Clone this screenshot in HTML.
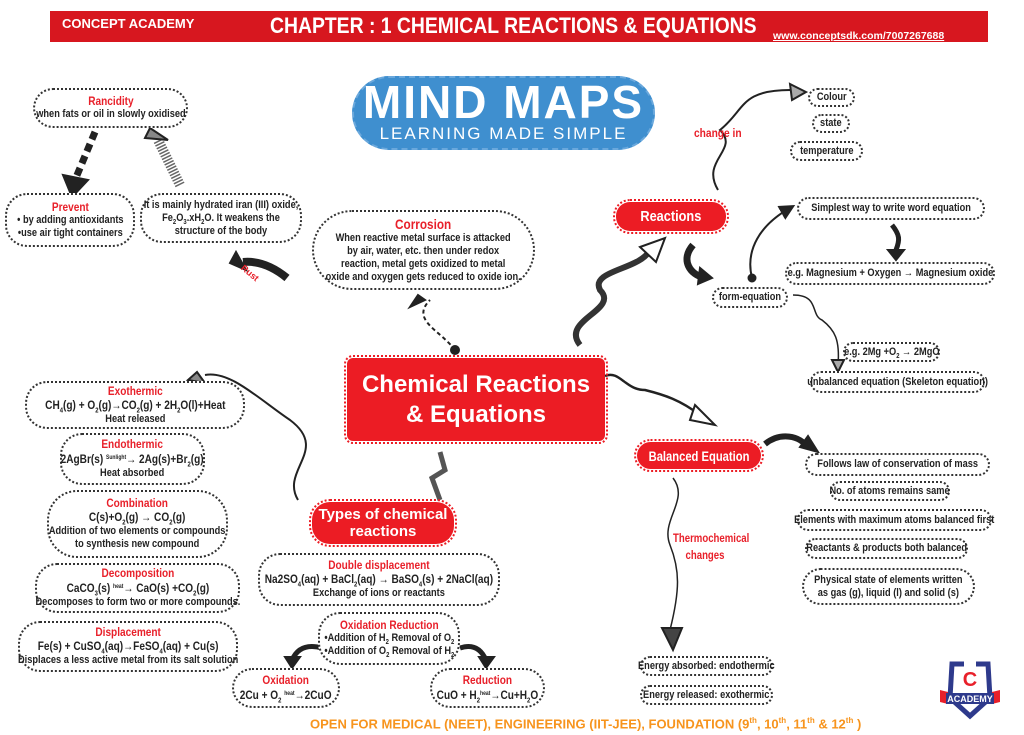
<!DOCTYPE html>
<html><head><meta charset="utf-8">
<style>
*{margin:0;padding:0;box-sizing:border-box}
body{width:1024px;height:735px;background:#fff;position:relative;overflow:hidden;font-family:"Liberation Sans",sans-serif;color:#222}
.a{position:absolute}
.b{position:absolute;border:2px dotted #333;border-radius:22px;background:#fff;text-align:center;font-weight:bold;font-size:11px;line-height:13px;display:flex;justify-content:center;align-items:center;white-space:nowrap}
.b>div{transform:scaleX(.84);transform-origin:center}
.r{color:#e8202a;font-size:12px;display:block}
.e{font-size:12px;display:block;line-height:15px}
.red{position:absolute;background:#ec1c24;color:#fff;border:2px dotted #ec1c24;outline:2px dotted #ec1c24;outline-offset:1px;display:flex;align-items:center;justify-content:center;text-align:center;font-weight:bold;white-space:nowrap}
sub{font-size:7px;line-height:0}
.t{font-size:6px;vertical-align:4px}
</style></head><body>
<div class="a" style="left:50px;top:11px;width:938px;height:31px;background:#d7171f"></div>
<div class="a" style="left:62px;top:16px;color:#fff;font:bold 13px 'Liberation Sans',sans-serif">CONCEPT ACADEMY</div>
<div class="a" style="left:270px;top:13px;color:#fff;font:bold 22px 'Liberation Sans',sans-serif;white-space:nowrap;transform:scaleX(.88);transform-origin:left">CHAPTER : 1 CHEMICAL REACTIONS &amp; EQUATIONS</div>
<div class="a" style="left:773px;top:30px;color:#fff;font:bold 10.5px 'Liberation Sans',sans-serif;text-decoration:underline">www.conceptsdk.com/7007267688</div>

<div class="a" style="left:352px;top:76px;width:303px;height:74px;background:#3f8fcf;border-radius:37px;border:2px dashed #6aa8dc"></div>
<div class="a" style="left:352px;top:77px;width:303px;text-align:center;color:#fff;font:bold 46px 'Liberation Sans',sans-serif;letter-spacing:2px;line-height:50px">MIND MAPS</div>
<div class="a" style="left:352px;top:124px;width:303px;text-align:center;color:#fff;font:17px 'Liberation Sans',sans-serif;letter-spacing:2px">LEARNING MADE SIMPLE</div>

<svg class="a" style="left:0;top:0" width="1024" height="735">
<defs><marker id="m" markerWidth="8" markerHeight="8" refX="5" refY="4" orient="auto"><path d="M0,0 L8,4 L0,8z" fill="#222"/></marker></defs>
<g fill="none" stroke="#222" stroke-width="2">
<path d="M95,132 L75,180" stroke-width="7" stroke-dasharray="8,5"/>
<path d="M63,175 L72,197 L88,180z" fill="#222"/>
<path d="M180,185 L158,140" stroke-width="10" stroke="#666" stroke-dasharray="1.5,1.5"/>
<path d="M145,138 L150,128 L168,140z" fill="#888"/>
<path d="M287,278 Q265,260 243,262" stroke-width="8"/>
<path d="M236,252 L230,263 L246,270z" fill="#222"/>
<path d="M455,350 C440,330 410,320 430,300" stroke-dasharray="4,3"/>
<circle cx="455" cy="350" r="4" fill="#222"/>
<path d="M425,300 L410,307 L418,295z" fill="#222"/>
<path d="M580,345 C560,320 620,310 600,290 C590,270 640,270 650,250" stroke-width="6" stroke="#333"/>
<path d="M640,247 L665,238 L656,262z" fill="#fff"/>
<path d="M718,190 C700,160 740,150 720,130 C745,110 740,90 790,90" />
<path d="M790,84 L806,92 L792,100z" fill="#aaa"/>
<path d="M693,245 C680,260 690,275 705,278" stroke-width="7"/>
<path d="M698,284 L712,278 L700,268z" fill="#222"/>
<path d="M752,278 C745,250 760,225 790,208" marker-end="url(#m)"/>
<circle cx="752" cy="278" r="3.5" fill="#222"/>
<path d="M892,225 C900,235 900,240 896,250" stroke-width="5"/>
<path d="M888,250 L896,260 L904,250z" fill="#222"/>
<path d="M793,295 C820,295 810,315 822,320 C835,330 840,340 838,365" stroke-width="1.5"/>
<path d="M832,360 L838,372 L844,360z" fill="#aaa"/>
<path d="M605,376 C620,370 625,390 645,390 C665,395 680,400 700,415" stroke-width="2.5"/>
<path d="M695,405 L715,425 L690,420z" fill="#fff"/>
<path d="M765,444 C780,432 800,435 808,448" stroke-width="6"/>
<path d="M800,447 L818,452 L808,436z" fill="#222"/>
<path d="M673,478 C690,500 660,520 670,545 C680,570 680,590 670,630" stroke-width="1.5"/>
<path d="M662,628 L673,650 L682,628z" fill="#444"/>
<path d="M440,452 L445,470 L432,478 L440,500" stroke-width="5" stroke="#555"/>
<path d="M298,500 C280,470 330,450 290,420 C260,400 230,370 205,375" stroke-width="2"/>
<path d="M197,372 L188,380 L205,383z" fill="#888"/>
<path d="M322,648 Q300,642 292,660" stroke-width="5"/>
<path d="M285,657 L292,668 L300,657z" fill="#222"/>
<path d="M460,648 Q478,642 486,660" stroke-width="5"/>
<path d="M479,657 L486,668 L494,657z" fill="#222"/>
</g></svg>

<div class="b" style="left:33px;top:88px;width:155px;height:40px"><div><span class="r">Rancidity</span>when fats or oil in slowly oxidised</div></div>
<div class="b" style="left:5px;top:193px;width:130px;height:54px"><div><span class="r">Prevent</span>• by adding antioxidants<br>•use air tight containers</div></div>
<div class="b" style="left:140px;top:193px;width:162px;height:50px"><div>It is mainly hydrated iran (III) oxide,<br>Fe<sub>2</sub>O<sub>3</sub>.xH<sub>2</sub>O. It weakens the<br>structure of the body</div></div>
<div class="a" style="left:240px;top:268px;color:#e8202a;font-weight:bold;font-size:9px;transform:rotate(40deg)">Rust</div>
<div class="b" style="left:312px;top:210px;width:223px;height:80px;border-radius:40px;font-size:11px"><div><span class="r" style="font-size:14px;line-height:15px">Corrosion</span>When reactive metal surface is attacked<br>by air, water, etc. then under redox<br>reaction, metal gets oxidized to metal<br>oxide and oxygen gets reduced to oxide ion.</div></div>

<div class="red" style="left:347px;top:358px;width:258px;height:83px;font:bold 24px 'Liberation Sans',sans-serif;line-height:30px;border-radius:6px">Chemical Reactions<br>&amp; Equations</div>
<div class="red" style="left:616px;top:202px;width:110px;height:29px;font-size:15px;border-radius:14px"><span style="transform:scaleX(.85)">Reactions</span></div>
<div class="red" style="left:637px;top:442px;width:124px;height:27px;font-size:14px;border-radius:14px"><span style="transform:scaleX(.8)">Balanced Equation</span></div>
<div class="red" style="left:312px;top:502px;width:142px;height:42px;font:bold 15px 'Liberation Sans',sans-serif;line-height:17px;border-radius:18px">Types of chemical<br>reactions</div>

<div class="a" style="left:694px;top:126px;color:#e8202a;font-weight:bold;font-size:12px;transform:scaleX(.85);transform-origin:left">change in</div>
<div class="b" style="left:808px;top:88px;width:47px;height:19px"><div>Colour</div></div>
<div class="b" style="left:812px;top:114px;width:38px;height:19px"><div>state</div></div>
<div class="b" style="left:790px;top:141px;width:73px;height:20px"><div>temperature</div></div>
<div class="b" style="left:797px;top:197px;width:188px;height:23px"><div>Simplest way to write word equation</div></div>
<div class="b" style="left:785px;top:262px;width:210px;height:23px"><div>e.g. Magnesium + Oxygen → Magnesium oxide</div></div>
<div class="b" style="left:712px;top:287px;width:76px;height:21px"><div>form-equation</div></div>
<div class="b" style="left:843px;top:342px;width:97px;height:20px"><div>e.g. 2Mg +O<sub>2</sub> → 2MgO</div></div>
<div class="b" style="left:810px;top:371px;width:175px;height:22px"><div>unbalanced equation (Skeleton equation)</div></div>

<div class="b" style="left:805px;top:453px;width:185px;height:23px"><div>Follows law of conservation of mass</div></div>
<div class="b" style="left:830px;top:481px;width:120px;height:20px"><div>No. of atoms remains same</div></div>
<div class="b" style="left:797px;top:509px;width:195px;height:22px"><div>Elements with maximum atoms balanced first</div></div>
<div class="b" style="left:805px;top:538px;width:163px;height:21px"><div>Reactants &amp; products both balanced</div></div>
<div class="b" style="left:802px;top:568px;width:173px;height:37px"><div>Physical state of elements written<br>as gas (g), liquid (l) and solid (s)</div></div>
<div class="a" style="left:665px;top:530px;width:80px;color:#e8202a;font-weight:bold;font-size:12px;text-align:center;line-height:17px;transform:scaleX(.8)">Thermochemical<br>changes</div>
<div class="b" style="left:640px;top:656px;width:133px;height:20px"><div>Energy absorbed: endothermic</div></div>
<div class="b" style="left:640px;top:685px;width:133px;height:20px"><div>Energy released: exothermic</div></div>

<div class="b" style="left:25px;top:381px;width:220px;height:48px"><div><span class="r">Exothermic</span><span class="e">CH<sub>4</sub>(g) + O<sub>2</sub>(g)→CO<sub>2</sub>(g) + 2H<sub>2</sub>O(l)+Heat</span>Heat released</div></div>
<div class="b" style="left:60px;top:433px;width:145px;height:52px"><div><span class="r">Endothermic</span><span class="e">2AgBr(s) <span class="t">Sunlight</span>→ 2Ag(s)+Br<sub>2</sub>(g)</span>Heat absorbed</div></div>
<div class="b" style="left:47px;top:490px;width:181px;height:68px;border-radius:30px"><div><span class="r">Combination</span><span class="e">C(s)+O<sub>2</sub>(g) → CO<sub>2</sub>(g)</span>Addition of two elements or compounds<br>to synthesis new compound</div></div>
<div class="b" style="left:35px;top:563px;width:205px;height:50px"><div><span class="r">Decomposition</span><span class="e">CaCO<sub>3</sub>(s) <span class="t">heat</span>→ CaO(s) +CO<sub>2</sub>(g)</span>Decomposes to form two or more compounds.</div></div>
<div class="b" style="left:18px;top:621px;width:220px;height:51px"><div><span class="r">Displacement</span><span class="e">Fe(s) + CuSO<sub>4</sub>(aq)→FeSO<sub>4</sub>(aq) + Cu(s)</span>Displaces a less active metal from its salt solution</div></div>

<div class="b" style="left:258px;top:553px;width:242px;height:53px"><div><span class="r">Double displacement</span><span class="e">Na2SO<sub>4</sub>(aq) + BaCl<sub>2</sub>(aq) → BaSO<sub>4</sub>(s) + 2NaCl(aq)</span>Exchange of ions or reactants</div></div>
<div class="b" style="left:318px;top:612px;width:142px;height:53px"><div><span class="r">Oxidation Reduction</span>•Addition of H<sub>2</sub> Removal of O<sub>2</sub><br>•Addition of O<sub>2</sub> Removal of H<sub>2</sub></div></div>
<div class="b" style="left:232px;top:668px;width:108px;height:40px"><div><span class="r">Oxidation</span><span class="e">2Cu + O<sub>2</sub> <span class="t">heat</span>→2CuO</span></div></div>
<div class="b" style="left:430px;top:668px;width:115px;height:40px"><div><span class="r">Reduction</span><span class="e">CuO + H<sub>2</sub><span class="t">heat</span>→Cu+H<sub>2</sub>O</span></div></div>

<div class="a" style="left:310px;top:716px;color:#f7941d;font:bold 13px 'Liberation Sans',sans-serif;white-space:nowrap">OPEN FOR MEDICAL (NEET), ENGINEERING (IIT-JEE), FOUNDATION (9<sup style="font-size:8px">th</sup>, 10<sup style="font-size:8px">th</sup>, 11<sup style="font-size:8px">th</sup> &amp; 12<sup style="font-size:8px">th</sup> )</div>

<svg class="a" style="left:938px;top:660px" width="64" height="60">
<path d="M14,4 L50,4 L52,38 L32,56 L12,38z" fill="none" stroke="#2e3a8c" stroke-width="5"/>
<rect x="26" y="0" width="12" height="10" fill="#fff"/>
<text x="32" y="26" text-anchor="middle" font-family="Liberation Sans" font-weight="bold" font-size="20" fill="#e8202a">C</text>
<path d="M2,30 L10,32 L10,44 L2,42z M62,30 L54,32 L54,44 L62,42z" fill="#e8202a"/>
<rect x="8" y="33" width="48" height="11" fill="#2e3a8c"/>
<text x="32" y="42" text-anchor="middle" font-family="Liberation Sans" font-weight="bold" font-size="9" fill="#fff">ACADEMY</text>
</svg>
</body></html>
